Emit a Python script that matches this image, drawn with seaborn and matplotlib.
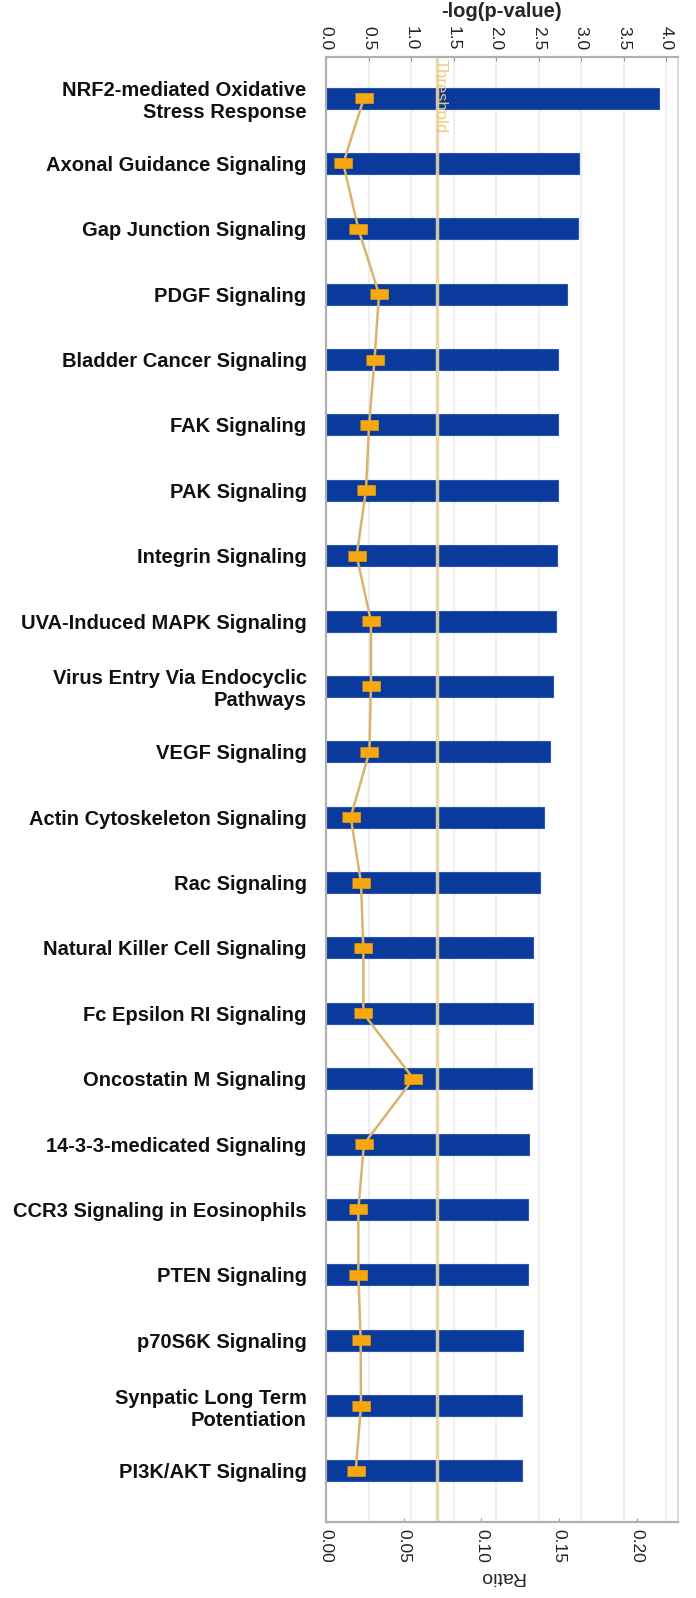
#!/usr/bin/env python3

import numpy as np
import pandas as pd
import seaborn as sns
import matplotlib.pyplot as plt

pathways = [
    "NRF2-mediated Oxidative\nStress Response",
    "Axonal Guidance Signaling",
    "Gap Junction Signaling",
    "PDGF Signaling",
    "Bladder Cancer Signaling",
    "FAK Signaling",
    "PAK Signaling",
    "Integrin Signaling",
    "UVA-Induced MAPK Signaling",
    "Virus Entry Via Endocyclic\nPathways",
    "VEGF Signaling",
    "Actin Cytoskeleton Signaling",
    "Rac Signaling",
    "Natural Killer Cell Signaling",
    "Fc Epsilon RI Signaling",
    "Oncostatin M Signaling",
    "14-3-3-medicated Signaling",
    "CCR3 Signaling in Eosinophils",
    "PTEN Signaling",
    "p70S6K Signaling",
    "Synpatic Long Term\nPotentiation",
    "PI3K/AKT Signaling",
]
neg_log_p = [3.92, 2.97, 2.96, 2.83, 2.73, 2.73, 2.73, 2.72, 2.71, 2.67, 2.63,
             2.56, 2.52, 2.43, 2.43, 2.42, 2.39, 2.38, 2.38, 2.32, 2.30, 2.30]
ratio = [0.0244, 0.0111, 0.0208, 0.0341, 0.0312, 0.0277, 0.0257, 0.0197, 0.0289,
         0.0289, 0.0279, 0.0159, 0.0225, 0.0240, 0.0240, 0.0562, 0.0244, 0.0208,
         0.0208, 0.0223, 0.0225, 0.0191]
threshold = 1.3
top_ticks = [0.0, 0.5, 1.0, 1.5, 2.0, 2.5, 3.0, 3.5, 4.0]
bottom_ticks = [0.00, 0.05, 0.10, 0.15, 0.20]

df = pd.DataFrame({"pathway": pathways, "neglogp": neg_log_p, "ratio": ratio,
                   "pos": np.arange(len(pathways))})

sns.set_style("white")
plt.rcParams["font.family"] = ["Liberation Sans", "DejaVu Sans"]

fig = plt.figure(figsize=(6.96, 15.98), dpi=100)
ax = fig.add_axes([0.4684, 0.0476, 0.5057, 0.9168])
ax2 = ax.twiny()

# bars: -log(p-value) on the top axis
sns.barplot(df, x="neglogp", y="pathway", orient="h", color="#0a3a9c",
            saturation=1, width=0.32, edgecolor="#2a55b0", linewidth=0.8, ax=ax)
ax.axvline(threshold, color="#e6d6a6", lw=2.5, zorder=3, alpha=0.9)
ax.text(threshold + 0.04, -0.6, "Threshold", rotation=-90, ha="center", va="top",
        color="#ecc97a", fontsize=12, family="Liberation Sans", zorder=4)

ax.set_xlim(0, 4.14)
ax.set_xticks(top_ticks)
ax.set_xticklabels([f"{t:.1f}" for t in top_ticks], rotation=-90, fontsize=12.5,
                   color="#222222")
ax.grid(axis="x", color="#ececec", lw=1.2)
ax.set_axisbelow(True)
ax.xaxis.tick_top()
ax.xaxis.set_label_position("top")
ax.set_xlabel("-log(p-value)", fontsize=14.5, fontweight="bold", labelpad=6)
ax.set_ylabel("")
ax.tick_params(axis="x", direction="in", length=3, color="#999999", pad=5)
ax.tick_params(axis="y", length=0, pad=14)
for lab in ax.get_yticklabels():
    lab.set_fontweight("bold")
    lab.set_fontsize(14.5)
    lab.set_color("#111111")

# line: ratio on the bottom axis
sns.lineplot(df, x="ratio", y="pos", orient="y", sort=False, ax=ax2,
             color="#d8b46e", lw=1.8,
             marker=[(-1, -0.55), (1, -0.55), (1, 0.55), (-1, 0.55)],
             markersize=13, markerfacecolor="#f7a810", markeredgecolor="#f0a000",
             markeredgewidth=0.5)
ax2.set_xlim(0, 0.2264)
ax2.set_xticks(bottom_ticks)
ax2.set_xticklabels([f"{t:.2f}" for t in bottom_ticks], rotation=-90, fontsize=12.5,
                    color="#222222")
ax2.xaxis.tick_bottom()
ax2.xaxis.set_label_position("bottom")
ax2.set_xlabel("Ratio", fontsize=14, rotation=180, labelpad=4)
ax2.tick_params(axis="x", direction="in", length=3, color="#999999", pad=5)
ax.set_ylim(len(pathways) - 1 + 0.78, -0.63)

for a in (ax, ax2):
    for side, sp in a.spines.items():
        sp.set_color("#b0b0b0" if side != "right" else "#dddddd")
        sp.set_linewidth(1.5)

fig.savefig("out.png", dpi=100)
